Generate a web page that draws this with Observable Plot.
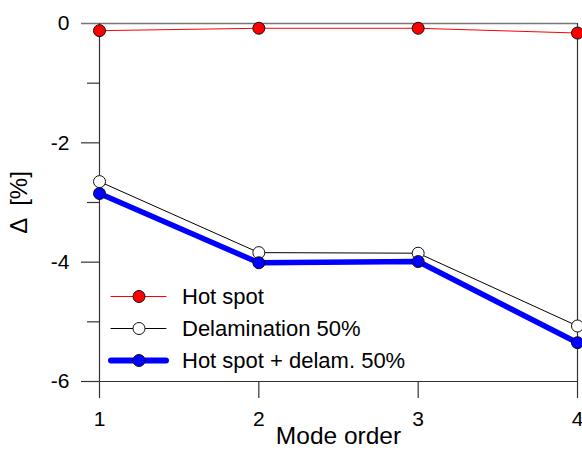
<!DOCTYPE html>
<html>
<head>
<meta charset="utf-8">
<script src="https://cdn.jsdelivr.net/npm/d3@7"></script>
<script src="https://cdn.jsdelivr.net/npm/@observablehq/plot@0.6"></script>
<style>
  html, body { margin: 0; padding: 0; background: #fff; }
  #wrap { position: relative; width: 582px; height: 459px; font-family: Arial, "Liberation Sans", sans-serif; }
  #legend { position: absolute; left: 0; top: 0; pointer-events: none; }
</style>
</head>
<body>
<div id="wrap"></div>
<script>
const modes = [1, 2, 3, 4];
const hotSpot = [-0.12, -0.08, -0.08, -0.16];
const delamination = [-2.65, -3.84, -3.85, -5.07];
const hotSpotDelam = [-2.85, -4.01, -3.99, -5.35];
const seriesNames = ["Hot spot", "Delamination 50%", "Hot spot + delam. 50%"];
const yMajorTicks = [0, -2, -4, -6];
const yMajorLabels = ["0", "-2", "-4", "-6"];
const yMinorTicks = [-1, -3, -5];
const xTicks = [1, 2, 3, 4];
const xTickLabels = ["1", "2", "3", "4"];

const rows = (vals, name) => modes.map((m, i) => ({mode: m, value: vals[i], series: name}));
const dHot = rows(hotSpot, seriesNames[0]);
const dDel = rows(delamination, seriesNames[1]);
const dBoth = rows(hotSpotDelam, seriesNames[2]);
const yLabelRows = yMajorTicks.map((v, i) => ({v, label: yMajorLabels[i]}));
const xLabelRows = xTicks.map((v, i) => ({v, label: xTickLabels[i]}));

const axisColor = "#333";
const chart = Plot.plot({
  width: 582,
  height: 459,
  marginLeft: 99,
  marginRight: 5,
  marginTop: 23,
  marginBottom: 78,
  style: {fontFamily: "Arial, 'Liberation Sans', sans-serif", background: "#fff"},
  x: {domain: [1, 4]},
  y: {domain: [-6, 0]},
  marks: [
    // frame pieces
    Plot.ruleY([-6], {stroke: axisColor, strokeWidth: 1.2}),
    Plot.ruleY([0], {stroke: "#777", strokeWidth: 1.5}),
    Plot.ruleX([1, 4], {y1: 0, y2: -6, stroke: axisColor, strokeWidth: 1.2}),
    // y axis ticks
    Plot.axisY({ticks: yMajorTicks.filter(d => d !== 0), tickSize: 18, tickFormat: () => "", stroke: axisColor, strokeWidth: 1.2, label: null}),
    Plot.axisY({ticks: [0], tickSize: 18, tickFormat: () => "", stroke: "#777", strokeWidth: 1.5, label: null}),
    Plot.axisY({ticks: yMinorTicks, tickSize: 12, tickFormat: () => "", stroke: axisColor, strokeWidth: 1.2, label: null}),
    // x axis ticks
    Plot.axisX({ticks: xTicks, tickSize: 17, tickFormat: () => "", stroke: axisColor, strokeWidth: 1.2, label: null}),
    // tick labels
    Plot.text(yLabelRows, {y: "v", text: "label", frameAnchor: "left", textAnchor: "end", dx: -30, fontSize: 21, fill: "#000"}),
    Plot.text(xLabelRows, {x: "v", text: "label", frameAnchor: "bottom", lineAnchor: "middle", dy: 38, fontSize: 21, fill: "#000"}),
    // series
    Plot.line(dHot, {x: "mode", y: "value", stroke: "#ff0000", strokeWidth: 1}),
    Plot.line(dDel, {x: "mode", y: "value", stroke: "#000", strokeWidth: 1}),
    Plot.line(dBoth, {x: "mode", y: "value", stroke: "#0000ff", strokeWidth: 5.5}),
    Plot.dot(dHot, {x: "mode", y: "value", r: 6, fill: "#ff0000", stroke: "#111", strokeWidth: 1}),
    Plot.dot(dDel, {x: "mode", y: "value", r: 6, fill: "#fff", stroke: "#111", strokeWidth: 1}),
    Plot.dot(dBoth, {x: "mode", y: "value", r: 6, fill: "#0000ff", stroke: "#111", strokeWidth: 1}),
    // axis titles
    Plot.text(["Mode order"], {frameAnchor: "bottom", dy: 62, fontSize: 24.5, fill: "#000"}),
    Plot.text(["\u0394  [%]"], {frameAnchor: "left", textAnchor: "middle", dx: -80, dy: 0, rotate: -90, fontSize: 24, fill: "#000"})
  ]
});
const wrap = document.getElementById("wrap");
wrap.appendChild(chart);

// legend overlay inside the plot area
const legendItems = [
  {name: seriesNames[0], stroke: "#ff0000", width: 1, fill: "#ff0000"},
  {name: seriesNames[1], stroke: "#000", width: 1, fill: "#fff"},
  {name: seriesNames[2], stroke: "#0000ff", width: 6, fill: "#0000ff"}
];
const svg = d3.select(wrap).append("svg").attr("id", "legend").attr("width", 582).attr("height", 459);
const g = svg.selectAll("g").data(legendItems).join("g")
  .attr("transform", (d, i) => `translate(0, ${296.5 + i * 32})`);
g.append("line").attr("x1", 111).attr("x2", 166).attr("y1", 0).attr("y2", 0)
  .attr("stroke", d => d.stroke).attr("stroke-width", d => d.width).attr("stroke-linecap", "round");
g.append("circle").attr("cx", 139).attr("cy", 0).attr("r", 6)
  .attr("fill", d => d.fill).attr("stroke", "#111").attr("stroke-width", 1);
g.append("text").attr("x", 182).attr("y", 0).attr("dy", "0.36em")
  .attr("font-size", 22).attr("font-family", "Arial, 'Liberation Sans', sans-serif").attr("fill", "#000")
  .text(d => d.name);
</script>
</body>
</html>
